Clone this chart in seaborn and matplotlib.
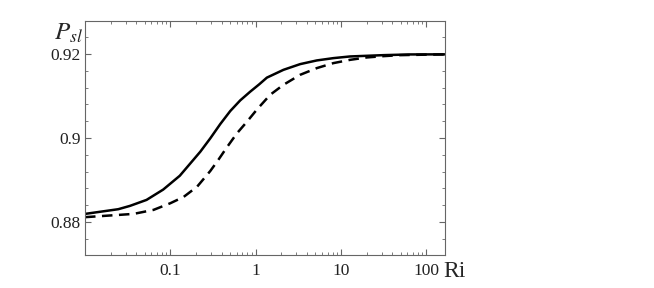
import matplotlib
matplotlib.use("Agg")
import matplotlib.pyplot as plt
import matplotlib.ticker as mticker
import seaborn as sns

# values
ri_solid = [0.01, 0.0245, 0.0336, 0.0526, 0.0824, 0.129, 0.2244, 0.2938, 0.3844, 0.503,
            0.659, 0.862, 1.099, 1.352, 2.114, 3.316, 5.197, 8.127, 12.74, 31.2, 64.1, 164]
p_solid = [0.8819, 0.88302, 0.88381, 0.88524, 0.88770, 0.89100, 0.89674, 0.89993, 0.90333, 0.90643,
           0.90898, 0.91105, 0.91280, 0.91440, 0.91626, 0.91762, 0.91850, 0.91905, 0.91945, 0.91976,
           0.91993, 0.91995]

ri_dashed = [0.01, 0.037, 0.0635, 0.1, 0.143, 0.206, 0.2938, 0.364, 0.458, 0.6027,
             0.789, 1.033, 1.478, 2.114, 3.316, 5.197, 8.127, 12.74, 19.98, 31.2, 48.98, 100, 164]
p_dashed = [0.88112, 0.88190, 0.88286, 0.88445, 0.88595, 0.88840, 0.89214, 0.89476, 0.89774, 0.90112,
            0.90388, 0.90679, 0.91031, 0.91269, 0.91507, 0.91667, 0.91786, 0.91864, 0.91921, 0.91952,
            0.91976, 0.91988, 0.91993]

x_ticks = [0.1, 1, 10, 100]
x_labels = ["0.1", "1", "10", "100"]
y_ticks = [0.88, 0.90, 0.92]
y_labels = ["0.88", "0.9", "0.92"]

sns.set_style("ticks")
plt.rcParams['font.family'] = ['Liberation Serif', 'DejaVu Serif']
plt.rcParams['mathtext.fontset'] = 'stix'

fig = plt.figure(figsize=(6.54, 2.88), dpi=100)
ax = fig.add_axes([0.130, 0.1146, 0.550, 0.8124])

sns.lineplot(x=ri_solid, y=p_solid, ax=ax, color='black', linewidth=1.8)
sns.lineplot(x=ri_dashed, y=p_dashed, ax=ax, color='black', linewidth=1.8,
             linestyle=(0, (4.2, 2.6)))

ax.set_xscale('log')
ax.set_xlim(0.01, 164)
ax.set_ylim(0.8721, 0.9279)

ax.set_xticks(x_ticks)
ax.set_xticklabels(x_labels)
ax.xaxis.set_minor_locator(mticker.LogLocator(base=10, subs=range(2, 10), numticks=20))
ax.xaxis.set_minor_formatter(mticker.NullFormatter())
ax.set_yticks(y_ticks)
ax.set_yticklabels(y_labels)
ax.yaxis.set_minor_locator(mticker.MultipleLocator(0.004))

ax.tick_params(which='both', direction='in', top=True, right=True, color='#666666',
               labelsize=12.5, labelcolor='#222222')
ax.tick_params(which='major', length=4, width=0.8)
ax.tick_params(which='minor', length=2.2, width=0.6)
ax.tick_params(axis='x', pad=6)
ax.tick_params(axis='y', pad=3)

for s in ax.spines.values():
    s.set_color('#666666')
    s.set_linewidth(0.8)

ax.set_xlabel('')
ax.set_ylabel('')
ax.text(0.996, -0.07, 'Ri', transform=ax.transAxes, fontsize=17, ha='left', va='center')
ax.text(-0.005, 0.947, r'$P_{sl}$', transform=ax.transAxes, fontsize=18, ha='right', va='center')

fig.savefig('out.png', dpi=100)
